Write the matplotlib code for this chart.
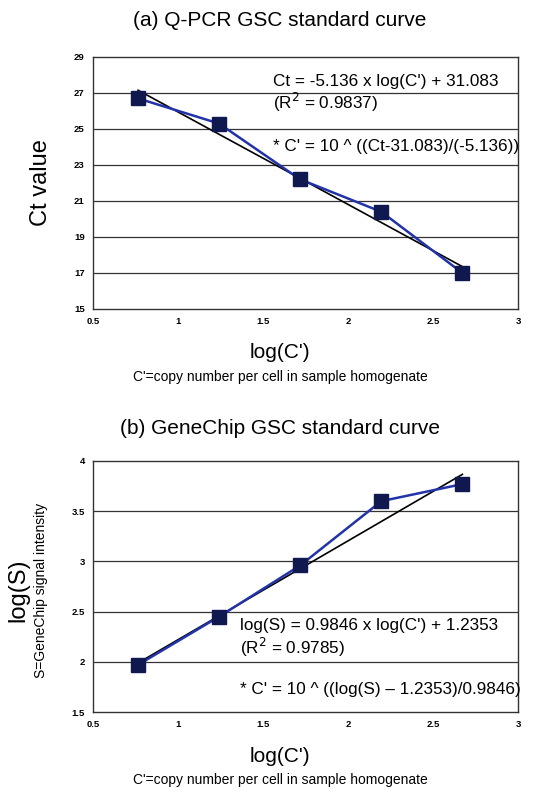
import numpy as np
import matplotlib
matplotlib.use("Agg")
import matplotlib.pyplot as plt

plt.rcParams['font.family'] = ['Liberation Sans', 'DejaVu Sans']

# data
log_c = [0.765, 1.242, 1.719, 2.196, 2.673]
ct_vals = [26.7, 25.3, 22.2, 20.4, 17.0]
log_s = [1.97, 2.45, 2.96, 3.60, 3.77]

ct_fit = (-5.136, 31.083)
s_fit = (0.9846, 1.2353)

x_ticks = [0.5, 1, 1.5, 2, 2.5, 3]
x_ticklabels = ["0.5", "1", "1.5", "2", "2.5", "3"]
ct_ticks = [15, 17, 19, 21, 23, 25, 27, 29]
s_ticks = [1.5, 2, 2.5, 3, 3.5, 4]
s_ticklabels = ["1.5", "2", "2.5", "3", "3.5", "4"]

LINE = "#2233aa"
MARK = "#101850"
EQ = 12.3


def style_axes(ax, yticks, yticklabels):
    ax.set_xlim(0.5, 3)
    ax.set_ylim(yticks[0], yticks[-1])
    ax.set_xticks(x_ticks)
    ax.set_xticklabels(x_ticklabels, fontsize=6.8, fontweight="bold")
    ax.set_yticks(yticks)
    ax.set_yticklabels(yticklabels, fontsize=6.8, fontweight="bold")
    ax.tick_params(length=0, pad=6)
    for y in yticks[1:-1]:
        ax.axhline(y, color="#333333", lw=0.9, zorder=1)
    for s in ax.spines.values():
        s.set_color("#333333")
        s.set_linewidth(1.0)


def draw_panel(ax, y, fit):
    xs = np.array([log_c[0], log_c[-1]])
    ax.plot(xs, fit[0] * xs + fit[1], color="black", lw=1.2, zorder=3)
    ax.plot(log_c, y, color=LINE, lw=1.8, marker="s", ms=10.5,
            mfc=MARK, mec=MARK, zorder=4)


fig = plt.figure(figsize=(5.6, 7.91), dpi=100)

# (a)
ax1 = fig.add_axes([93 / 560, 1 - 309 / 791, 425 / 560, 252 / 791])
draw_panel(ax1, ct_vals, ct_fit)
style_axes(ax1, ct_ticks, [str(t) for t in ct_ticks])
ax1.set_ylabel("Ct value", fontsize=17, labelpad=16)
fig.text(0.5, 1 - 20 / 791, "(a) Q-PCR GSC standard curve", ha="center", va="center", fontsize=15)
fig.text(0.5, 1 - 352 / 791, "log(C')", ha="center", va="center", fontsize=15)
fig.text(0.5, 1 - 377 / 791, "C'=copy number per cell in sample homogenate", ha="center", va="center", fontsize=10)
ax1.text(1.56, 27.65, "Ct = -5.136 x log(C') + 31.083", fontsize=EQ, va="center")
ax1.text(1.56, 26.45, "(R$^2$ = 0.9837)", fontsize=EQ, va="center")
ax1.text(1.56, 24.05, "* C' = 10 ^ ((Ct-31.083)/(-5.136))", fontsize=EQ, va="center")

# (b)
ax2 = fig.add_axes([93 / 560, 1 - 712 / 791, 425 / 560, 251 / 791])
draw_panel(ax2, log_s, s_fit)
style_axes(ax2, s_ticks, s_ticklabels)
fig.text(18 / 560, 1 - 590 / 791, "log(S)", rotation=90, ha="center", va="center", fontsize=17)
fig.text(41 / 560, 1 - 590 / 791, "S=GeneChip signal intensity", rotation=90, ha="center", va="center", fontsize=10)
fig.text(0.5, 1 - 428 / 791, "(b) GeneChip GSC standard curve", ha="center", va="center", fontsize=15)
fig.text(0.5, 1 - 757 / 791, "log(C')", ha="center", va="center", fontsize=15)
fig.text(0.5, 1 - 780 / 791, "C'=copy number per cell in sample homogenate", ha="center", va="center", fontsize=10)
ax2.text(1.365, 2.36, "log(S) = 0.9846 x log(C') + 1.2353", fontsize=EQ, va="center")
ax2.text(1.365, 2.14, "(R$^2$ = 0.9785)", fontsize=EQ, va="center")
ax2.text(1.365, 1.72, "* C' = 10 ^ ((log(S) \u2013 1.2353)/0.9846)", fontsize=EQ, va="center")

fig.savefig("out.png", dpi=100)
